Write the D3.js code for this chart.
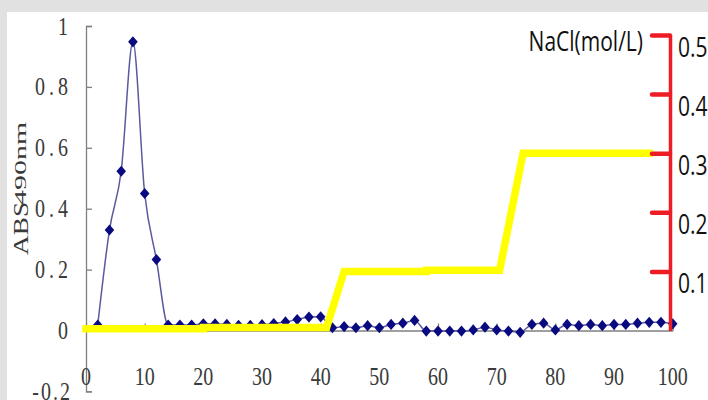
<!DOCTYPE html>
<html>
<head>
<meta charset="utf-8">
<script src="https://cdn.jsdelivr.net/npm/d3@7/dist/d3.min.js"></script>
<style>
  html, body { margin: 0; padding: 0; background: #e1e1e1; }
  svg { display: block; }
</style>
</head>
<body>
<svg id="chart" width="708" height="400"></svg>
<script>
// Tube numbers and absorbance at 490 nm
const tubes = [2, 4, 6, 8, 10, 12, 14, 16, 18, 20, 22, 24, 26, 28, 30, 32, 34, 36, 38, 40,
               42, 44, 46, 48, 50, 52, 54, 56, 58, 60, 62, 64, 66, 68, 70, 72, 74, 76, 78, 80,
               82, 84, 86, 88, 90, 92, 94, 96, 98, 100];
const absValues = [0.018, 0.33, 0.523, 0.948, 0.45, 0.233, 0.018, 0.018, 0.018, 0.022,
                   0.022, 0.02, 0.017, 0.017, 0.019, 0.023, 0.028, 0.036, 0.044, 0.045,
                   0.009, 0.013, 0.009, 0.016, 0.009, 0.02, 0.024, 0.033, -0.002, -0.002,
                   -0.002, -0.002, 0.002, 0.011, 0.002, -0.002, -0.006, 0.02, 0.024, 0.002,
                   0.02, 0.016, 0.02, 0.016, 0.02, 0.02, 0.024, 0.027, 0.027, 0.022];

// NaCl step gradient (mol/L)
const naclTubes = [0, 20, 20, 41, 44, 58, 58, 70.5, 74.5, 96];
const naclConc  = [0.003, 0.003, 0.005, 0.005, 0.1, 0.1, 0.102, 0.102, 0.3, 0.3];

// Tick labels
const xTicks = [0, 10, 20, 30, 40, 50, 60, 70, 80, 90, 100];
const yLeftTicks = [-0.2, 0, 0.2, 0.4, 0.6, 0.8, 1];
const yLeftLabels = ["-0.2", "0", "0.2", "0.4", "0.6", "0.8", "1"];
const yRightTicks = [0.1, 0.2, 0.3, 0.4, 0.5];
const yRightLabels = ["0.1", "0.2", "0.3", "0.4", "0.5"];

const svg = d3.select("#chart");

// white chart area
svg.append("rect").attr("x", 7).attr("y", 12).attr("width", 701).attr("height", 388).attr("fill", "#ffffff");

const x = d3.scaleLinear().domain([0, 100]).range([86, 672.7]);
const yL = d3.scaleLinear().domain([-0.2, 1]).range([391.4, 26]);
const yR = d3.scaleLinear().domain([0, 0.5]).range([330.5, 35]);

const axisGrey = "#7f7f7f";
const textGrey = "#3a3a3a";
const STRETCH = 1.3;

// left axis (ticks point inward)
const gL = svg.append("g").attr("transform", "translate(86,0)")
  .call(d3.axisRight(yL).tickValues(yLeftTicks).tickSize(6).tickSizeOuter(6).tickFormat(""));
gL.select(".domain").attr("stroke", axisGrey).attr("stroke-width", 1.3);
gL.selectAll(".tick line").attr("stroke", axisGrey).attr("stroke-width", 1.3);

// horizontal axis at zero
const gX = svg.append("g").attr("transform", `translate(0,${yL(0)})`)
  .call(d3.axisTop(x).tickValues(xTicks).tickSize(7).tickSizeOuter(0).tickFormat(""));
gX.select(".domain").attr("stroke", axisGrey).attr("stroke-width", 1.6);
gX.selectAll(".tick line").attr("stroke", axisGrey).attr("stroke-width", 1.2);

// absorbance curve
const absData = tubes.map((t, i) => [t, absValues[i]]);
svg.append("path")
  .datum(absData)
  .attr("fill", "none")
  .attr("stroke", "#5a5a9e")
  .attr("stroke-width", 1.5)
  .attr("d", d3.line().x(d => x(d[0])).y(d => yL(d[1])).curve(d3.curveMonotoneX));

// diamond markers
const diamond = {
  draw(ctx, size) {
    const w = 4.8, h = 5.6;
    ctx.moveTo(0, -h); ctx.lineTo(w, 0); ctx.lineTo(0, h); ctx.lineTo(-w, 0); ctx.closePath();
  }
};
svg.append("g").selectAll("path")
  .data(absData)
  .join("path")
  .attr("transform", d => `translate(${x(d[0])},${yL(d[1])})`)
  .attr("d", d3.symbol().type(diamond)())
  .attr("fill", "#0a0a80");

// NaCl gradient line
const naclData = naclTubes.map((t, i) => [t, naclConc[i]]);
svg.append("path")
  .datum(naclData)
  .attr("fill", "none")
  .attr("stroke", "#ffff00")
  .attr("stroke-width", 7.5)
  .attr("stroke-linecap", "square")
  .attr("stroke-linejoin", "miter")
  .attr("d", d3.line().x(d => x(d[0])).y(d => yR(d[1])));

// right axis (NaCl)
const gR = svg.append("g").attr("transform", "translate(670,0)")
  .call(d3.axisLeft(yR).tickValues(yRightTicks).tickSize(18).tickSizeOuter(0).tickFormat(""));
gR.select(".domain").attr("stroke", "#ee1c25").attr("stroke-width", 3.5);
gR.selectAll(".tick line").attr("stroke", "#ee1c25").attr("stroke-width", 4.5).attr("stroke-linecap", "round");

// left tick labels
svg.append("g").selectAll("text")
  .data(yLeftTicks)
  .join("text")
  .attr("transform", d => `translate(72,${yL(d)}) scale(1,${STRETCH})`)
  .attr("y", 6.6)
  .attr("text-anchor", "end")
  .attr("font-family", "'Liberation Serif', serif")
  .attr("font-size", 20)
  .attr("letter-spacing", d => d < 0 ? "2px" : "4px")
  .attr("fill", textGrey)
  .text((d, i) => yLeftLabels[i]);

// bottom tick labels
svg.append("g").selectAll("text")
  .data(xTicks)
  .join("text")
  .attr("transform", d => `translate(${x(d)},376.5) scale(1,${STRETCH})`)
  .attr("y", 6.6)
  .attr("text-anchor", "middle")
  .attr("font-family", "'Liberation Serif', serif")
  .attr("font-size", 20)
  .attr("fill", textGrey)
  .text(d => d);

// right tick labels
svg.append("g").selectAll("text")
  .data(yRightTicks)
  .join("text")
  .attr("transform", d => `translate(678,${yR(d) + 12}) scale(1,${STRETCH})`)
  .attr("y", 7.5)
  .attr("font-family", "'Open Sans', sans-serif")
  .attr("font-size", 21)
  .attr("fill", "#111111")
  .text((d, i) => yRightLabels[i]);

// right axis title
svg.append("text")
  .attr("transform", `translate(643,41.7) scale(1,${STRETCH})`)
  .attr("y", 7.5)
  .attr("text-anchor", "end")
  .attr("font-family", "'Open Sans', sans-serif")
  .attr("font-size", 21)
  .attr("fill", "#111111")
  .text("NaCl(mol/L)");

// left axis title
svg.append("text")
  .attr("transform", `translate(28,255) rotate(-90) scale(${STRETCH},1)`)
  .attr("font-family", "'Liberation Serif', serif")
  .attr("font-size", 21)
  .attr("fill", textGrey)
  .text("ABS");
svg.append("text")
  .attr("transform", `translate(26,205) rotate(-90) scale(${STRETCH},1)`)
  .attr("font-family", "'Liberation Serif', serif")
  .attr("font-size", 16)
  .attr("textLength", 64)
  .attr("lengthAdjust", "spacingAndGlyphs")
  .attr("fill", textGrey)
  .text("490nm");
</script>
</body>
</html>
